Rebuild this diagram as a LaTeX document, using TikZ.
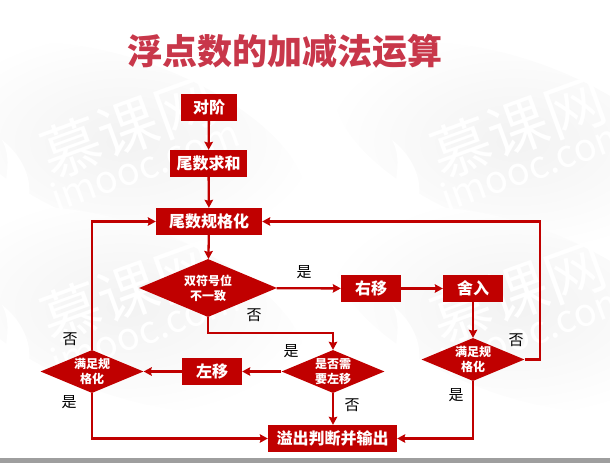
\documentclass[tikz,border=0pt]{standalone}
\usepackage{fontspec}
\setmainfont{Noto Sans CJK SC}
\usetikzlibrary{arrows.meta,shapes.geometric}
\definecolor{boxred}{HTML}{C00000}
\definecolor{titlered}{HTML}{C8374A}
\begin{document}
\begin{tikzpicture}[x=1pt,y=-1pt,
  stepbox/.style={fill=boxred,text=white,inner sep=0pt,minimum height=27pt,
    font=\fontsize{16}{18}\selectfont\bfseries},
  testbox/.style={diamond,fill=boxred,text=white,aspect=2.4,inner sep=-3pt,align=center,
    font=\fontsize{12}{15}\selectfont\bfseries},
  link/.style={draw=boxred,line width=2.3pt,-{Stealth[length=8pt,width=8.5pt,inset=1pt]}},
  tag/.style={font=\fontsize{15}{17}\selectfont}]
\useasboundingbox (0,0) rectangle (610,463);
%
\begin{scope}
\clip (0,0) rectangle (610,463);
\foreach \dx/\dy in {0/0,390/0,0/165,390/165} {
  \shade[shift={(\dx,\dy)},inner color=black!5,outer color=white,rotate around={-20:(125,145)}]
    (125,145) ellipse (190pt and 85pt);
}
\foreach \dx/\dy in {0/0,390/0,0/165,390/165} {
  \begin{scope}[shift={(\dx,\dy)}]
  \fill[white] (14,222) .. controls (-8,195) and (18,170) .. (2,140)
    .. controls (34,165) and (38,205) .. (14,222);
  \node[rotate=20,text=white,font=\fontsize{60}{60}\selectfont] (brand\dx\dy) at (128,127) {慕课网};
  \node[rotate=20,text=white,font=\fontsize{38}{38}\selectfont] (site\dx\dy) at (145,165) {imooc.com};
  \end{scope}
}
\end{scope}
%
\fill[black!38] (0,458) rectangle (610,463);
\node[text=titlered,font=\fontsize{35}{40}\selectfont\bfseries] (title) at (284.5,51) {浮点数的加减法运算};
%
\node[stepbox,minimum width=56pt] (align) at (209,107.5) {对阶};
\node[stepbox,minimum width=77pt] (sum) at (208.5,163.5) {尾数求和};
\node[stepbox,minimum width=106pt] (norm) at (209,221.5) {尾数规格化};
\node[testbox,minimum width=138pt,minimum height=58pt] (sign) at (208,288) {双符号位\\不一致};
\node[stepbox,minimum width=60pt] (rshift) at (371,288.5) {右移};
\node[stepbox,minimum width=60pt] (round) at (473,288.5) {舍入};
\node[testbox,minimum width=103pt,minimum height=43pt] (rcheck) at (473,359.5) {满足规\\格化};
\node[testbox,minimum width=103pt,minimum height=43pt] (need) at (333,371.5) {是否需\\要左移};
\node[stepbox,minimum width=60pt] (lshift) at (212,371.5) {左移};
\node[testbox,minimum width=103pt,minimum height=43pt] (lcheck) at (92,371.5) {满足规\\格化};
\node[stepbox,minimum width=129pt] (output) at (332.5,438.5) {溢出判断并输出};
%
\draw[link] (align) -- (sum);
\draw[link] (sum) -- (norm);
\draw[link] (norm) -- (sign);
\draw[link] (sign) -- (rshift);
\draw[link] (rshift) -- (round);
\draw[link] (round) -- (rcheck);
\draw[link] (rcheck.east) -- ++(15,0) |- (norm.east);
\draw[link] (sign.south) -- ++(0,16) -| (need.north);
\draw[link] (need) -- (lshift);
\draw[link] (lshift) -- (lcheck);
\draw[link] (lcheck.north) |- (norm.west);
\draw[link] (lcheck.south) |- (output.west);
\draw[link] (need) -- (need |- output.north);
\draw[link] (rcheck.south) |- (output.east);
%
\node[tag] (yes1) at (304,272) {是};
\node[tag] (no1) at (254,315) {否};
\node[tag] (no2) at (70,339) {否};
\node[tag] (yes2) at (69,402) {是};
\node[tag] (yes3) at (291,351) {是};
\node[tag] (no3) at (352,405) {否};
\node[tag] (no4) at (516,340) {否};
\node[tag] (yes4) at (456,395) {是};
%
\end{tikzpicture}
\end{document}
